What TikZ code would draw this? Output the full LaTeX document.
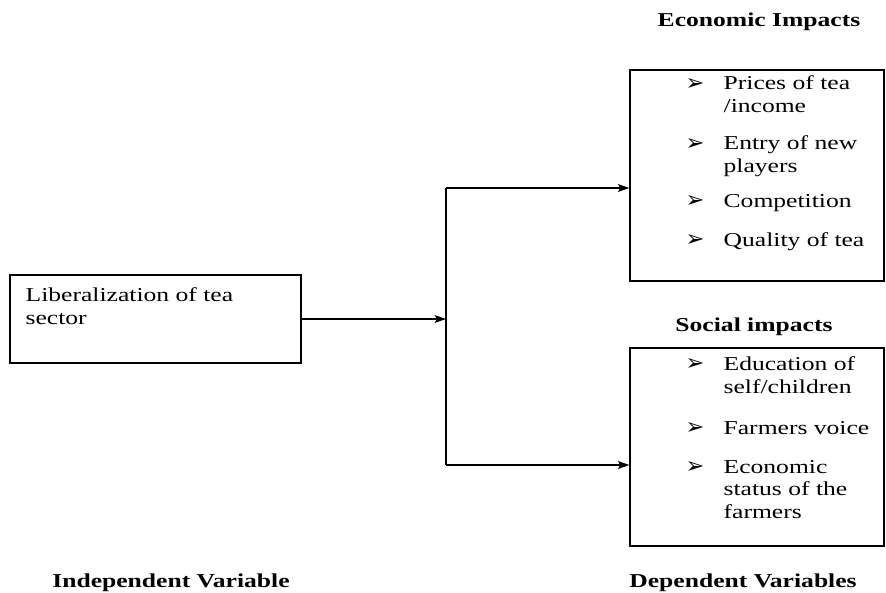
\documentclass[tikz,border=0pt]{standalone}
\usepackage{fontspec}
\setmainfont[FakeStretch=1.3]{Liberation Serif}
\newfontfamily\dingfont{DejaVu Sans}
\usetikzlibrary{arrows.meta}
\tikzset{>={Stealth[length=8pt,width=5.5pt,inset=1.5pt]}}
\tikzset{box/.style={draw, rectangle, inner sep=0pt, line width=0.9pt}}
\tikzset{head/.style={inner sep=0pt, anchor=base, font=\fontsize{14}{16}\selectfont\bfseries}}
\tikzset{impact/.style={anchor=base west, inner sep=0pt, align=left, font=\fontsize{14}{16}\selectfont}}
\tikzset{bul/.style={anchor=base west, inner sep=0pt, font=\dingfont\bfseries\fontsize{16}{16}\selectfont}}

\begin{document}
\begin{tikzpicture}[x=0.025cm, y=-0.025cm, line width=0.9pt]
\useasboundingbox (0,0) rectangle (886,592);

% boxes
\node[box, minimum width=7.275cm, minimum height=2.2cm] (lib) at (155.5,319) {};
\node[box, minimum width=6.35cm, minimum height=5.275cm] (eco) at (757,175.5) {};
\node[box, minimum width=6.35cm, minimum height=4.95cm] (soc) at (757,447) {};

% base of a multi-line node is its last line
\node[impact] (libtext) at (25,324) {Liberalization of tea\\sector};

% headings
\node[head] (ecohead) at (759,26) {Economic Impacts};
\node[head] (sochead) at (754,331) {Social impacts};
\node[head] (indep) at (171,587) {Independent Variable};
\node[head] (dep) at (743,587) {Dependent Variables};

% economic impacts
\node[bul] (b1) at (685,90) {➢};
\node[impact] (e1) at (723,112) {Prices of tea\\/income};
\node[bul] (b2) at (685,150) {➢};
\node[impact] (e2) at (723,172) {Entry of new\\players};
\node[bul] (b3) at (685,207) {➢};
\node[impact] (e3) at (723,207) {Competition};
\node[bul] (b4) at (685,246) {➢};
\node[impact] (e4) at (723,246) {Quality of tea};

% social impacts
\node[bul] (b5) at (685,370) {➢};
\node[impact] (s1) at (723,393) {Education of\\self/children};
\node[bul] (b6) at (685,434) {➢};
\node[impact] (s2) at (723,434) {Farmers voice};
\node[bul] (b7) at (685,473) {➢};
\node[impact] (s3) at (723,518) {Economic\\status of the\\farmers};

% connectors
\coordinate (j) at (446,319);
\coordinate (jt) at (446,188);
\coordinate (jb) at (446,465);

\draw[->] (lib.east) -- (j);
\draw (jt) -- (jb);
\draw[->] (jt) -- (eco.west |- jt);
\draw[->] (jb) -- (soc.west |- jb);

\end{tikzpicture}
\end{document}
